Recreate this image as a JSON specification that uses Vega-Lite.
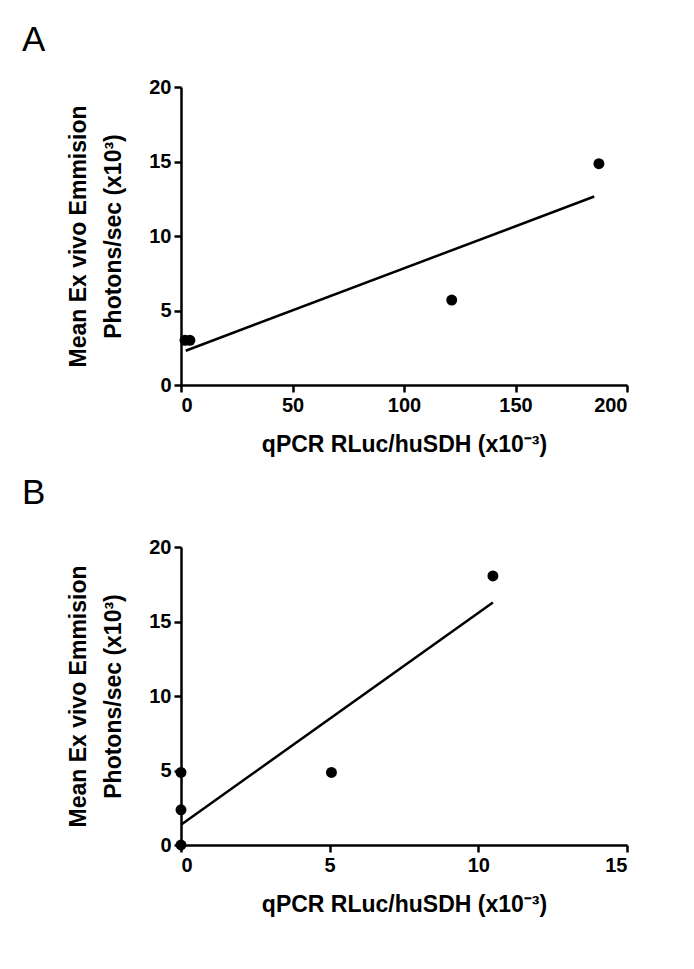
{
  "$schema": "https://vega.github.io/schema/vega-lite/v6.json",
  "padding": {"left": 22, "top": 23, "right": 20, "bottom": 10},
  "background": "white",
  "spacing": 20,
  "config": {
    "font": "Liberation Sans",
    "view": {"stroke": null},
    "axis": {
      "grid": false,
      "domainColor": "black",
      "domainWidth": 2.5,
      "tickColor": "black",
      "tickWidth": 2.5,
      "tickSize": 7,
      "labelFontSize": 20,
      "labelFontWeight": "bold",
      "labelColor": "black",
      "labelPadding": 3,
      "titleFontSize": 23,
      "titleFontWeight": "bold",
      "titleColor": "black"
    },
    "title": {"font": "Liberation Sans", "fontSize": 35, "fontWeight": "normal", "color": "black", "anchor": "start", "frame": "group", "dx": -159}
  },
  "vconcat": [
    {
      "title": {"text": "A", "offset": 19},
      "width": 446,
      "height": 298,
      "layer": [
        {
          "data": {"values": [
            {"x": 1.8, "y": 3.0},
            {"x": 4.0, "y": 3.0},
            {"x": 121.4, "y": 5.7},
            {"x": 187.4, "y": 14.85}
          ]},
          "mark": {"type": "point", "filled": true, "color": "black", "opacity": 1, "size": 120},
          "encoding": {
            "x": {"field": "x", "type": "quantitative", "scale": {"domain": [0, 200], "nice": false}, "axis": {"values": [0, 50, 100, 150, 200], "title": "qPCR RLuc/huSDH (x10⁻³)", "titlePadding": 18}},
            "y": {"field": "y", "type": "quantitative", "scale": {"domain": [0, 20], "nice": false}, "axis": {"values": [0, 5, 10, 15, 20], "title": ["Mean Ex vivo Emmision", "Photons/sec (x10³)"], "titleLineHeight": 35, "titlePadding": 23}}
          }
        },
        {
          "data": {"values": [
            {"x": 2.1, "y": 2.3},
            {"x": 185.3, "y": 12.65}
          ]},
          "mark": {"type": "line", "color": "black", "strokeWidth": 2.5},
          "encoding": {
            "x": {"field": "x", "type": "quantitative"},
            "y": {"field": "y", "type": "quantitative"}
          }
        }
      ]
    },
    {
      "title": {"text": "B", "offset": 26},
      "width": 446,
      "height": 298,
      "layer": [
        {
          "data": {"values": [
            {"x": 0, "y": 0},
            {"x": 0, "y": 2.36},
            {"x": 0, "y": 4.87},
            {"x": 5.06, "y": 4.87},
            {"x": 10.49, "y": 18.06}
          ]},
          "mark": {"type": "point", "filled": true, "color": "black", "opacity": 1, "size": 120, "clip": false},
          "encoding": {
            "x": {"field": "x", "type": "quantitative", "scale": {"domain": [0, 15], "nice": false}, "axis": {"values": [0, 5, 10, 15], "title": "qPCR RLuc/huSDH (x10⁻³)", "titlePadding": 18}},
            "y": {"field": "y", "type": "quantitative", "scale": {"domain": [0, 20], "nice": false}, "axis": {"values": [0, 5, 10, 15, 20], "title": ["Mean Ex vivo Emmision", "Photons/sec (x10³)"], "titleLineHeight": 35, "titlePadding": 23}}
          }
        },
        {
          "data": {"values": [
            {"x": 0, "y": 1.36},
            {"x": 10.49, "y": 16.28}
          ]},
          "mark": {"type": "line", "color": "black", "strokeWidth": 2.5},
          "encoding": {
            "x": {"field": "x", "type": "quantitative"},
            "y": {"field": "y", "type": "quantitative"}
          }
        }
      ]
    }
  ]
}
